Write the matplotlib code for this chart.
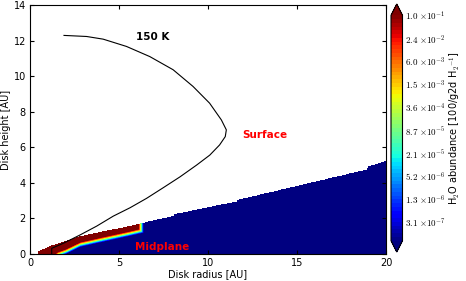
import numpy as np
import matplotlib
matplotlib.use('Agg')
import matplotlib.pyplot as plt

plt.rcParams['mathtext.fontset'] = 'cm'
plt.rcParams['font.family'] = ['DejaVu Sans']

# upper edge of the model domain (r, z in AU), steps are grid jumps
surf_r = [0.45, 1.2, 2.8, 3.75, 5.6, 6.3, 8.1, 8.12, 11.65, 11.67, 18.97, 18.99, 20.0]
surf_z = [0.12, 0.45, 0.97, 1.18, 1.55, 1.72, 2.13, 2.22, 2.94, 3.02, 4.74, 4.90, 5.2]
r_inner = 0.45

# lower edge of the water rich layer (where abundance ~1e-4)
snow_r = [1.0, 1.55, 2.0, 2.8, 4.0, 5.6, 6.5]
snow_z = [-0.4, 0.0, 0.16, 0.55, 0.82, 1.17, 1.38]
snow_rend = 6.22      # outer end of the layer
grad = 21.0           # decades per AU across the transition

# 150 K contour
t150_r = [1.22, 1.22, 1.87, 2.81, 3.75, 4.68, 5.62, 6.55, 7.49, 8.43, 9.36, 10.1, 10.65, 10.97,
          11.03, 10.75, 10.09, 9.16, 8.04, 6.73, 5.42, 4.11, 3.18, 1.91]
t150_z = [0.0, 0.32, 0.6, 1.07, 1.57, 2.13, 2.6, 3.13, 3.73, 4.34, 5.0, 5.56, 6.13, 6.6,
          6.98, 7.54, 8.48, 9.42, 10.36, 11.1, 11.67, 12.08, 12.23, 12.29]

# colorbar
vmin_log, vmax_log = -7.0, -1.0
cbar_ticks = [1.0e-1, 2.4e-2, 6.0e-3, 1.5e-3, 3.6e-4, 8.7e-5, 2.1e-5, 5.2e-6, 1.3e-6, 3.1e-7]


r = np.linspace(0, 20, 1001)
z = np.linspace(0, 14, 701)
R, Z = np.meshgrid(r, z)

ztop = np.interp(R, surf_r, surf_z)
zsnow = np.interp(R, snow_r, snow_z)
dist = np.minimum(Z - zsnow, snow_rend - R)
logx = np.clip(-4.0 + grad * dist, -10, 1)
logx = np.ma.masked_where((Z > ztop) | (R < r_inner), logx)

fig = plt.figure(figsize=(4.66, 2.81), dpi=100)
ax = fig.add_axes([30/466., 27/281., 356/466., 249/281.])
cax = fig.add_axes([391/466., 29/281., 11.5/466., 248/281.])

levels = np.linspace(vmin_log, vmax_log, 61)
cs = ax.contourf(R, Z, logx, levels=levels, cmap='jet', extend='both')

ax.plot(t150_r, t150_z, '-', color='k', lw=0.8)

ax.text(6.9, 12.2, '150 K', fontsize=7.5, fontweight='bold', ha='center', va='center')
ax.text(13.2, 6.69, 'Surface', fontsize=7.5, fontweight='bold', color='red', ha='center', va='center')
ax.text(7.45, 0.41, 'Midplane', fontsize=7.5, fontweight='bold', color='red', ha='center', va='center')

ax.set_xlim(0, 20)
ax.set_ylim(0, 14)
ax.set_xticks([0, 5, 10, 15, 20])
ax.set_yticks(np.arange(0, 15, 2))
ax.tick_params(direction='in', top=True, right=True, length=3, labelsize=7, pad=3)
ax.set_xlabel('Disk radius [AU]', fontsize=7, labelpad=1)
ax.set_ylabel('Disk height [AU]', fontsize=7, labelpad=2)

cb = fig.colorbar(cs, cax=cax, ticks=np.log10(cbar_ticks))
labels = []
for t in cbar_ticks:
    e = int(np.floor(np.log10(t) + 1e-9))
    labels.append(r'$%.1f\ {\times}10^{%d}$' % (t / 10.0**e, e))
cb.set_ticklabels(labels)
cb.ax.tick_params(labelsize=6.5, length=0, pad=2)
cb.set_label(r'H$_\mathsf{2}$O abundance [100/g2d H$_\mathsf{2}$$^{-1}$]', fontsize=7, labelpad=1)

fig.savefig('out.png', dpi=100)
